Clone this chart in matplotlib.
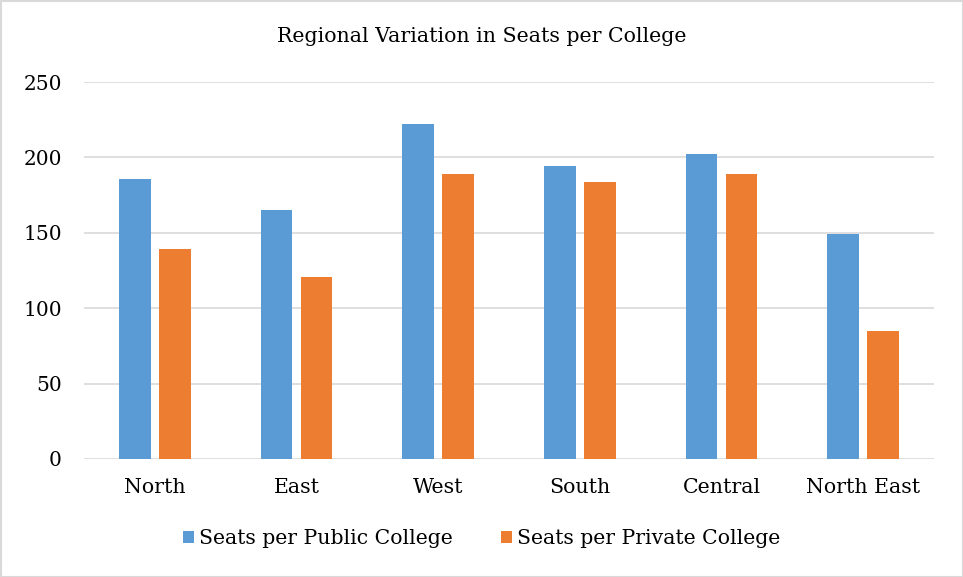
import matplotlib
matplotlib.use("Agg")
import matplotlib.pyplot as plt
import numpy as np
from matplotlib.patches import Rectangle

categories = ["North", "East", "West", "South", "Central", "North East"]
public_seats = [186, 165, 222, 194, 202, 149]
private_seats = [139, 121, 189, 184, 189, 85]
series_names = ["Seats per Public College", "Seats per Private College"]
yticks = [0, 50, 100, 150, 200, 250]

plt.rcParams['font.family'] = ['DejaVu Serif']

fig = plt.figure(figsize=(9.63, 5.77), dpi=100)
ax = fig.add_axes([84/963, 1-459/577, (934-84)/963, (459-82)/577])

x = np.arange(len(categories))
w = 0.225
off = 0.141
blue = "#5B9BD5"
orange = "#ED7D31"
ax.bar(x - off, public_seats, w, color=blue, label=series_names[0], zorder=3)
ax.bar(x + off, private_seats, w, color=orange, label=series_names[1], zorder=3)

ax.set_xlim(-0.5, len(categories) - 0.5)
ax.set_ylim(0, 250)
ax.set_yticks(yticks)
ax.set_yticklabels([str(v) for v in yticks], fontsize=14.5)
ax.set_xticks(x)
ax.set_xticklabels(categories, fontsize=14.8)
ax.tick_params(axis='both', length=0)
ax.tick_params(axis='y', pad=16)
ax.tick_params(axis='x', pad=14)
ax.grid(axis='y', color='#D9D9D9', linewidth=1.2, zorder=0)
for s in ax.spines.values():
    s.set_visible(False)

fig.suptitle("Regional Variation in Seats per College", y=1-36/577, va='center', fontsize=14.8)

fig.legend(loc='center', bbox_to_anchor=(0.5, 1-539/577), ncol=2, frameon=False,
           fontsize=14.7, handlelength=0.55, handleheight=0.55, handletextpad=0.2,
           columnspacing=2.4)

fig.patches.append(Rectangle((0.5/963, 0.5/577), 1-1/963, 1-1/577, transform=fig.transFigure,
                             fill=False, edgecolor='#D9D9D9', linewidth=1.5))

fig.savefig("out.png", dpi=100)
